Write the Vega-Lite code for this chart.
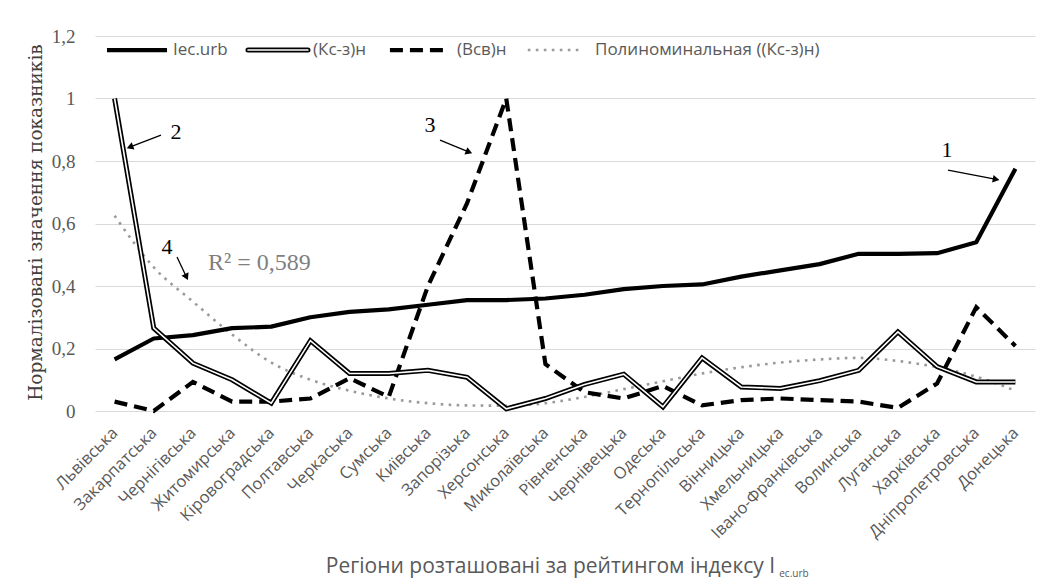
{
  "$schema": "https://vega.github.io/schema/vega-lite/v6.json",
  "width": 940,
  "height": 375,
  "autosize": "none",
  "padding": {"left": 95, "top": 36, "right": 13, "bottom": 168},
  "background": "white",
  "config": {
    "view": {"stroke": null},
    "axisY": {"titleFont": "DejaVu Serif", "labelFont": "Liberation Serif"},
    "axisX": {"titleFont": "Open Sans", "labelFont": "Open Sans"}
  },
  "data": {
    "values": [
      {"region": "Львівська", "iec": 0.165, "ksz": 1.0, "vsv": 0.03, "poly": 0.625},
      {"region": "Закарпатська", "iec": 0.232, "ksz": 0.265, "vsv": 0.0, "poly": 0.46},
      {"region": "Чернігівська", "iec": 0.243, "ksz": 0.153, "vsv": 0.093, "poly": 0.35},
      {"region": "Житомирська", "iec": 0.265, "ksz": 0.1, "vsv": 0.03, "poly": 0.245},
      {"region": "Кіровоградська", "iec": 0.27, "ksz": 0.025, "vsv": 0.03, "poly": 0.155},
      {"region": "Полтавська", "iec": 0.3, "ksz": 0.225, "vsv": 0.04, "poly": 0.1},
      {"region": "Черкаська", "iec": 0.317, "ksz": 0.12, "vsv": 0.105, "poly": 0.065},
      {"region": "Сумська", "iec": 0.325, "ksz": 0.12, "vsv": 0.045, "poly": 0.04},
      {"region": "Київська", "iec": 0.34, "ksz": 0.13, "vsv": 0.4, "poly": 0.025},
      {"region": "Запорізька", "iec": 0.355, "ksz": 0.108, "vsv": 0.665, "poly": 0.018},
      {"region": "Херсонська", "iec": 0.355, "ksz": 0.007, "vsv": 1.0, "poly": 0.017},
      {"region": "Миколаївська", "iec": 0.36, "ksz": 0.04, "vsv": 0.15, "poly": 0.025},
      {"region": "Рівненська", "iec": 0.372, "ksz": 0.085, "vsv": 0.06, "poly": 0.045},
      {"region": "Чернівецька", "iec": 0.39, "ksz": 0.118, "vsv": 0.04, "poly": 0.07},
      {"region": "Одеська", "iec": 0.4, "ksz": 0.013, "vsv": 0.08, "poly": 0.095},
      {"region": "Тернопільська", "iec": 0.405, "ksz": 0.17, "vsv": 0.018, "poly": 0.12},
      {"region": "Вінницька", "iec": 0.43, "ksz": 0.077, "vsv": 0.035, "poly": 0.14},
      {"region": "Хмельницька", "iec": 0.45, "ksz": 0.072, "vsv": 0.04, "poly": 0.155},
      {"region": "Івано-Франківська", "iec": 0.47, "ksz": 0.097, "vsv": 0.035, "poly": 0.165},
      {"region": "Волинська", "iec": 0.503, "ksz": 0.13, "vsv": 0.03, "poly": 0.17},
      {"region": "Луганська", "iec": 0.503, "ksz": 0.253, "vsv": 0.01, "poly": 0.16},
      {"region": "Харківська", "iec": 0.505, "ksz": 0.142, "vsv": 0.088, "poly": 0.14},
      {"region": "Дніпропетровська", "iec": 0.54, "ksz": 0.093, "vsv": 0.332, "poly": 0.11},
      {"region": "Донецька", "iec": 0.775, "ksz": 0.093, "vsv": 0.208, "poly": 0.065}
    ]
  },
  "layer": [
    {
      "encoding": {
        "x": {
          "field": "region", "type": "ordinal", "sort": null,
          "scale": {"type": "point", "padding": 0.5},
          "axis": {
            "labelAngle": -45, "labelAlign": "right", "labelBaseline": "middle",
            "labelPadding": 19, "ticks": false, "domain": false, "grid": false,
            "labelFont": "Open Sans", "labelFontSize": 16.5, "labelColor": "#595959",
            "title": "Регіони розташовані за рейтингом індексу I",
            "titleFont": "Open Sans", "titleFontSize": 21, "titleFontWeight": "normal",
            "titleColor": "#595959", "titleX": 455, "titleY": 161,
            "titleBaseline": "alphabetic", "titleAlign": "center"
          }
        }
      },
      "layer": [
        {
          "mark": {"type": "line", "color": "#9a9a9a", "strokeWidth": 2.6, "strokeDash": [2.6, 5.4], "interpolate": "monotone"},
          "encoding": {
            "y": {
              "field": "poly", "type": "quantitative",
              "scale": {"domain": [0, 1.2], "nice": false, "zero": false},
              "axis": {
                "values": [0, 0.2, 0.4, 0.6, 0.8, 1, 1.2],
                "labelExpr": "replace(format(datum.value, '~g'), '.', ',')",
                "grid": true, "gridColor": "#d9d9d9", "gridWidth": 1.2,
                "domain": false, "ticks": false, "labelPadding": 20,
                "labelFont": "Liberation Serif", "labelFontSize": 19, "labelColor": "#595959",
                "title": "Нормалізовані значення показників",
                "titleFont": "DejaVu Serif", "titleFontSize": 18.5, "titleFontWeight": "normal",
                "titleColor": "#404040", "titleX": -60, "titleY": 186, "titleAngle": -90,
                "titleBaseline": "middle", "titleAlign": "center"
              }
            }
          }
        },
        {
          "mark": {"type": "line", "color": "black", "strokeWidth": 4.2, "strokeJoin": "round"},
          "encoding": {"y": {"field": "iec", "type": "quantitative"}}
        },
        {
          "mark": {"type": "line", "color": "black", "strokeWidth": 4.2, "strokeDash": [13, 7]},
          "encoding": {"y": {"field": "vsv", "type": "quantitative"}}
        },
        {
          "mark": {"type": "line", "color": "black", "strokeWidth": 5, "strokeJoin": "miter"},
          "encoding": {"y": {"field": "ksz", "type": "quantitative"}}
        },
        {
          "mark": {"type": "line", "color": "white", "strokeWidth": 1.6, "strokeJoin": "miter"},
          "encoding": {"y": {"field": "ksz", "type": "quantitative"}}
        }
      ]
    },
    {
      "data": {"values": [{}]},
      "layer": [
        {
          "mark": {"type": "rule", "color": "black", "strokeWidth": 4.2},
          "encoding": {
            "x": {"datum": 0.806, "type": "quantitative", "scale": {"domain": [0.5, 24.5], "nice": false, "zero": false}, "axis": null},
            "x2": {"datum": 2.338},
            "y": {"datum": 1.155, "type": "quantitative"}
          }
        },
        {
          "mark": {"type": "rule", "color": "black", "strokeWidth": 5, "strokeCap": "round"},
          "encoding": {
            "x": {"datum": 4.406, "type": "quantitative"}, "x2": {"datum": 5.938},
            "y": {"datum": 1.155, "type": "quantitative"}
          }
        },
        {
          "mark": {"type": "rule", "color": "white", "strokeWidth": 1.6, "strokeCap": "round"},
          "encoding": {
            "x": {"datum": 4.406, "type": "quantitative"}, "x2": {"datum": 5.938},
            "y": {"datum": 1.155, "type": "quantitative"}
          }
        },
        {
          "mark": {"type": "rule", "color": "black", "strokeWidth": 4.2, "strokeDash": [13, 7]},
          "encoding": {
            "x": {"datum": 8.03, "type": "quantitative"}, "x2": {"datum": 9.56},
            "y": {"datum": 1.155, "type": "quantitative"}
          }
        },
        {
          "mark": {"type": "rule", "color": "#9a9a9a", "strokeWidth": 2.6, "strokeDash": [2.6, 5.4]},
          "encoding": {
            "x": {"datum": 11.55, "type": "quantitative"}, "x2": {"datum": 12.96},
            "y": {"datum": 1.155, "type": "quantitative"}
          }
        },
        {
          "mark": {"type": "text", "text": "Iec.urb", "font": "Open Sans", "fontSize": 17, "color": "#595959", "align": "left", "baseline": "middle"},
          "encoding": {"x": {"datum": 2.49, "type": "quantitative"}, "y": {"datum": 1.155, "type": "quantitative"}}
        },
        {
          "mark": {"type": "text", "text": "(Кс-з)н", "font": "Open Sans", "fontSize": 17, "color": "#595959", "align": "left", "baseline": "middle"},
          "encoding": {"x": {"datum": 6.066, "type": "quantitative"}, "y": {"datum": 1.155, "type": "quantitative"}}
        },
        {
          "mark": {"type": "text", "text": "(Всв)н", "font": "Open Sans", "fontSize": 17, "color": "#595959", "align": "left", "baseline": "middle"},
          "encoding": {"x": {"datum": 9.74, "type": "quantitative"}, "y": {"datum": 1.155, "type": "quantitative"}}
        },
        {
          "mark": {"type": "text", "text": "Полиноминальная ((Кс-з)н)", "font": "Open Sans", "fontSize": 17, "color": "#595959", "align": "left", "baseline": "middle"},
          "encoding": {"x": {"datum": 13.266, "type": "quantitative"}, "y": {"datum": 1.155, "type": "quantitative"}}
        },
        {
          "mark": {"type": "text", "text": "ec.urb", "font": "Open Sans", "fontSize": 10, "color": "#595959", "align": "left", "baseline": "top"},
          "encoding": {"x": {"datum": 17.97, "type": "quantitative"}, "y": {"datum": -0.506, "type": "quantitative"}}
        },
        {
          "mark": {"type": "text", "text": "2", "font": "Liberation Serif", "fontSize": 22, "color": "black", "align": "center", "baseline": "middle"},
          "encoding": {"x": {"datum": 2.568, "type": "quantitative"}, "y": {"datum": 0.893, "type": "quantitative"}}
        },
        {
          "mark": {"type": "rule", "color": "black", "strokeWidth": 1.3},
          "encoding": {
            "x": {"datum": 2.185, "type": "quantitative"}, "x2": {"datum": 1.419},
            "y": {"datum": 0.883, "type": "quantitative"}, "y2": {"datum": 0.846}
          }
        },
        {
          "mark": {"type": "point", "shape": "triangle", "filled": true, "size": 60, "color": "black", "opacity": 1, "angle": 249},
          "encoding": {"x": {"datum": 1.419, "type": "quantitative"}, "y": {"datum": 0.846, "type": "quantitative"}}
        },
        {
          "mark": {"type": "text", "text": "3", "font": "Liberation Serif", "fontSize": 22, "color": "black", "align": "center", "baseline": "middle"},
          "encoding": {"x": {"datum": 9.053, "type": "quantitative"}, "y": {"datum": 0.915, "type": "quantitative"}}
        },
        {
          "mark": {"type": "rule", "color": "black", "strokeWidth": 1.3},
          "encoding": {
            "x": {"datum": 9.309, "type": "quantitative"}, "x2": {"datum": 10.023},
            "y": {"datum": 0.867, "type": "quantitative"}, "y2": {"datum": 0.83}
          }
        },
        {
          "mark": {"type": "point", "shape": "triangle", "filled": true, "size": 60, "color": "black", "opacity": 1, "angle": 112},
          "encoding": {"x": {"datum": 10.023, "type": "quantitative"}, "y": {"datum": 0.83, "type": "quantitative"}}
        },
        {
          "mark": {"type": "text", "text": "1", "font": "Liberation Serif", "fontSize": 22, "color": "black", "align": "center", "baseline": "middle"},
          "encoding": {"x": {"datum": 22.253, "type": "quantitative"}, "y": {"datum": 0.835, "type": "quantitative"}}
        },
        {
          "mark": {"type": "rule", "color": "black", "strokeWidth": 1.3},
          "encoding": {
            "x": {"datum": 22.279, "type": "quantitative"}, "x2": {"datum": 23.479},
            "y": {"datum": 0.771, "type": "quantitative"}, "y2": {"datum": 0.742}
          }
        },
        {
          "mark": {"type": "point", "shape": "triangle", "filled": true, "size": 60, "color": "black", "opacity": 1, "angle": 101},
          "encoding": {"x": {"datum": 23.479, "type": "quantitative"}, "y": {"datum": 0.742, "type": "quantitative"}}
        },
        {
          "mark": {"type": "text", "text": "4", "font": "Liberation Serif", "fontSize": 22, "color": "black", "align": "center", "baseline": "middle"},
          "encoding": {"x": {"datum": 2.338, "type": "quantitative"}, "y": {"datum": 0.525, "type": "quantitative"}}
        },
        {
          "mark": {"type": "rule", "color": "black", "strokeWidth": 1.3},
          "encoding": {
            "x": {"datum": 2.594, "type": "quantitative"}, "x2": {"datum": 2.823},
            "y": {"datum": 0.493, "type": "quantitative"}, "y2": {"datum": 0.432}
          }
        },
        {
          "mark": {"type": "point", "shape": "triangle", "filled": true, "size": 60, "color": "black", "opacity": 1, "angle": 154},
          "encoding": {"x": {"datum": 2.823, "type": "quantitative"}, "y": {"datum": 0.432, "type": "quantitative"}}
        },
        {
          "mark": {"type": "text", "text": "R² = 0,589", "font": "Liberation Serif", "fontSize": 24, "color": "#7f7f7f", "align": "left", "baseline": "middle"},
          "encoding": {"x": {"datum": 3.385, "type": "quantitative"}, "y": {"datum": 0.474, "type": "quantitative"}}
        }
      ]
    }
  ],
  "resolve": {"scale": {"x": "independent"}, "axis": {"x": "independent"}}
}
